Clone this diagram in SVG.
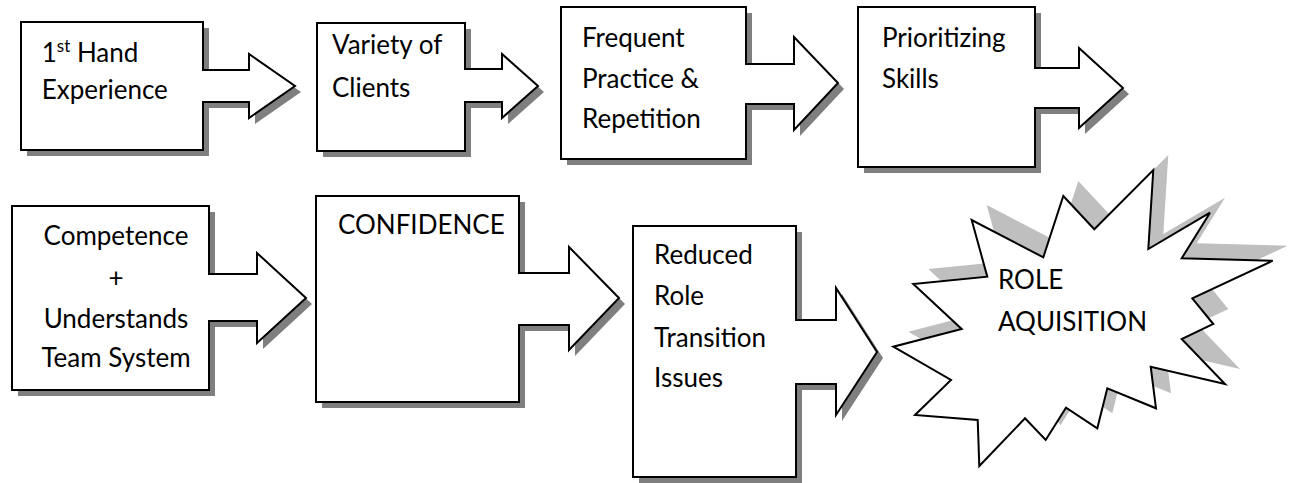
<svg xmlns="http://www.w3.org/2000/svg" xmlns:xlink="http://www.w3.org/1999/xlink" width="1292" height="483" viewBox="0 0 1292 483">
<style>
.shape{fill:#fff;stroke:#000;stroke-width:2;stroke-linejoin:miter}
.shadow{fill:#7f7f7f;stroke:none}
.bshadow{fill:#bfbfbf;stroke:none}
.t{font-family:Lato,"Liberation Sans",Arial,sans-serif;font-size:26px;fill:#000}
.c{text-anchor:middle}
</style>
<defs>
<polygon id="p1" points="21,22 203,22 203,70 249,70 249,54 295,86 249,118 249,102 203,102 203,150 21,150"/>
<polygon id="p2" points="317,23 465,23 465,69 502,69 502,54 538,86 502,118 502,102 465,102 465,151 317,151"/>
<polygon id="p3" points="561,7 746,7 746,64 794,64 794,37 838,83 794,130 794,104 746,104 746,159 561,159"/>
<polygon id="p4" points="858,7 1035,7 1035,68 1079,68 1079,48 1123,88 1079,128 1079,108 1035,108 1035,167 858,167"/>
<polygon id="p5" points="12,206 209,206 209,274 257,274 257,253 306,298 257,343 257,321 209,321 209,390 12,390"/>
<polygon id="p6" points="316,196 519,196 519,273 569,273 569,247 619,298 569,350 569,325 519,325 519,402 316,402"/>
<polygon id="p7" points="633,226 796,226 796,320 836,320 836,288 877,352 836,415 836,384 796,384 796,477 633,477"/>
<polygon id="p8" points="971.7,220 987.3,276.7 913.3,284 961.7,329 893.3,346.7 951,380 915,415 977.7,420 979.3,466 1025,418.3 1045.7,440 1066,407.7 1097.3,428.3 1107.3,388.3 1156,408.3 1150.7,366.7 1225,384 1181.7,339 1213.3,324 1192.3,298.3 1272.7,260.7 1181.7,258.3 1210,212.7 1148.3,249 1153.3,170 1094.3,229.3 1063.3,196 1043.3,257.3"/>
</defs>
<g id="shadows">
<use xlink:href="#p1" class="shadow" transform="translate(6,6)"/>
<use xlink:href="#p2" class="shadow" transform="translate(6,6)"/>
<use xlink:href="#p3" class="shadow" transform="translate(6,6)"/>
<use xlink:href="#p4" class="shadow" transform="translate(6,6)"/>
<use xlink:href="#p5" class="shadow" transform="translate(6,6)"/>
<use xlink:href="#p6" class="shadow" transform="translate(6,6)"/>
<use xlink:href="#p7" class="shadow" transform="translate(6,6)"/>
<use xlink:href="#p8" class="bshadow" transform="translate(15,-15)"/>
</g>
<g id="connectors"/>
<g id="node-first-hand">
<use xlink:href="#p1" class="shape"/>
<text class="t" x="41.7" y="61.7">1<tspan font-size="17" dy="-10">st</tspan><tspan dy="10"> Hand</tspan></text>
<text class="t" x="41.7" y="98.5">Experience</text>
</g>
<g id="node-variety">
<use xlink:href="#p2" class="shape"/>
<text class="t" x="332" y="54">Variety of</text>
<text class="t" x="332" y="97">Clients</text>
</g>
<g id="node-frequent">
<use xlink:href="#p3" class="shape"/>
<text class="t" x="582" y="47">Frequent</text>
<text class="t" x="582" y="88">Practice &amp;</text>
<text class="t" x="582" y="128">Repetition</text>
</g>
<g id="node-prioritizing">
<use xlink:href="#p4" class="shape"/>
<text class="t" x="882" y="47">Prioritizing</text>
<text class="t" x="882" y="88">Skills</text>
</g>
<g id="node-competence">
<use xlink:href="#p5" class="shape"/>
<text class="t c" x="116" y="245">Competence</text>
<text class="t c" x="116" y="287">+</text>
<text class="t c" x="116" y="327.5">Understands</text>
<text class="t c" x="116" y="367">Team System</text>
</g>
<g id="node-confidence">
<use xlink:href="#p6" class="shape"/>
<text class="t" x="338" y="234">CONFIDENCE</text>
</g>
<g id="node-reduced">
<use xlink:href="#p7" class="shape"/>
<text class="t" x="654" y="263.5">Reduced</text>
<text class="t" x="654" y="305">Role</text>
<text class="t" x="654" y="346.5">Transition</text>
<text class="t" x="654" y="387">Issues</text>
</g>
<g id="node-role-aquisition">
<use xlink:href="#p8" class="shape"/>
<text class="t" x="998" y="289">ROLE</text>
<text class="t" x="998" y="331">AQUISITION</text>
</g>
</svg>
